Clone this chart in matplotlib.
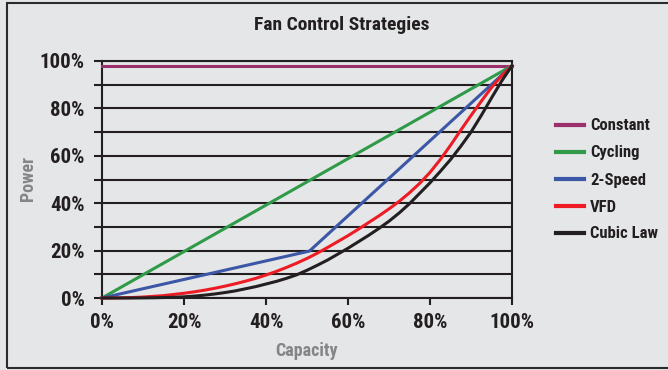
import matplotlib.pyplot as plt
from matplotlib import font_manager as fm
from matplotlib.patches import Rectangle

# fan power (% of full) vs capacity (% of full)
capacity = [0, 2.5, 5, 7.5, 10, 12.5, 15, 17.5, 20, 22.5, 25, 27.5, 30, 32.5,
            35, 37.5, 40, 42.5, 45, 47.5, 50, 52.5, 55, 57.5, 60, 62.5, 65,
            67.5, 70, 72.5, 75, 77.5, 80, 82.5, 85, 87.5, 90, 92.5, 95, 97.5,
            100]
vfd = [0, 0, 0.1, 0.2, 0.4, 0.7, 1.0, 1.5, 2.0, 2.6, 3.3, 4.1, 5.0, 6.0,
       7.1, 8.3, 9.7, 11.2, 12.9, 14.7, 16.7, 18.9, 21.3, 23.8, 26.3, 29.0,
       31.8, 34.6, 37.6, 40.8, 44.4, 48.4, 53.0, 58.4, 64.4, 70.8, 77.0,
       83.0, 88.8, 93.8, 98.0]
cubic_law = [0, 0, 0, 0, 0.05, 0.1, 0.2, 0.3, 0.5, 0.8, 1.2, 1.7, 2.3, 3.0,
             3.9, 4.8, 5.9, 7.0, 8.3, 9.8, 11.7, 13.8, 16.0, 18.5, 21.0,
             23.7, 26.4, 29.3, 32.4, 35.9, 39.8, 44.2, 48.6, 53.4, 58.4,
             64.0, 70.0, 77.0, 84.4, 91.6, 98.0]
two_speed_x = [0, 50.6, 100]
two_speed = [0, 19.8, 98]
cycling_x = [0, 100]
cycling = [0, 98]
constant_x = [0, 100]
constant = [98, 98]

series_names = ['Constant', 'Cycling', '2-Speed', 'VFD', 'Cubic Law']
series_colors = ['#9b2f6b', '#2f9a48', '#3b57a6', '#ed1c24', '#231f20']

xticks = [0, 20, 40, 60, 80, 100]
xtick_labels = ['0%', '20%', '40%', '60%', '80%', '100%']
yticks = list(range(0, 101, 10))
ytick_labels = ['0%', '', '20%', '', '40%', '', '60%', '', '80%', '', '100%']

BG = '#e5e6e8'
INK = '#231f20'

# first condensed family that is installed
installed = {f.name for f in fm.fontManager.ttflist}
narrow = next((f for f in ['Roboto Condensed', 'Archivo Narrow',
                           'Barlow Condensed', 'Asap Condensed']
               if f in installed), 'DejaVu Sans')
plt.rcParams['font.family'] = [narrow, 'DejaVu Sans']
plt.rcParams['font.weight'] = 'bold'

W, H = 668, 370
fig = plt.figure(figsize=(W / 100, H / 100), dpi=100, facecolor=BG)
ax = fig.add_axes([102 / W, 1 - 298 / H, 410 / W, 237 / H], facecolor=BG)

lw = 2.2
xs = [constant_x, cycling_x, two_speed_x, capacity, capacity]
ys = [constant, cycling, two_speed, vfd, cubic_law]
handles = []
for x, y, name, c in zip(xs, ys, series_names, series_colors):
    h, = ax.plot(x, y, color=c, lw=lw, label=name, zorder=3,
                 solid_joinstyle='round', clip_on=False)
    handles.append(h)

ax.set_xlim(0, 100)
ax.set_ylim(0, 100)
ax.set_xticks(xticks)
ax.set_xticklabels(xtick_labels)
ax.set_yticks(yticks)
ax.set_yticklabels(ytick_labels)
ax.yaxis.grid(True, color=INK, lw=1.5, zorder=1)
ax.set_axisbelow(True)

for s in ax.spines.values():
    s.set_color(INK)
    s.set_linewidth(1.5)

ax.tick_params(axis='y', length=5.5, width=1.5, color=INK, pad=7,
               labelsize=15, labelcolor=INK)
ax.tick_params(axis='x', length=5, width=1.5, color=INK, pad=6,
               labelsize=15, labelcolor=INK)

fig.text(342 / W, 1 - 24.5 / H, 'Fan Control Strategies', ha='center',
         va='center', fontsize=14, color=INK)
fig.text(307 / W, 1 - 351.5 / H, 'Capacity', ha='center', va='center',
         fontsize=13, color='#858585')
fig.text(28 / W, 1 - 178.7 / H, 'Power', ha='center', va='center',
         rotation=90, fontsize=13, color='#858585')

leg = fig.legend(handles, series_names, loc='center left',
                 bbox_to_anchor=(556 / W, 1 - 180 / H), frameon=False,
                 borderpad=0, borderaxespad=0, handlelength=1.65,
                 handletextpad=0.4, labelspacing=0.72,
                 prop={'size': 12, 'weight': 'bold'})
for t in leg.get_texts():
    t.set_color(INK)
for ln in leg.get_lines():
    ln.set_linewidth(3)

# outer frame
fig.patches.append(Rectangle((7 / W, 1 - 368 / H), 1.0, 365 / H,
                             transform=fig.transFigure, fill=False,
                             edgecolor='#2b2b2b', lw=1.5))

fig.savefig('out.png', dpi=100, facecolor=BG)
